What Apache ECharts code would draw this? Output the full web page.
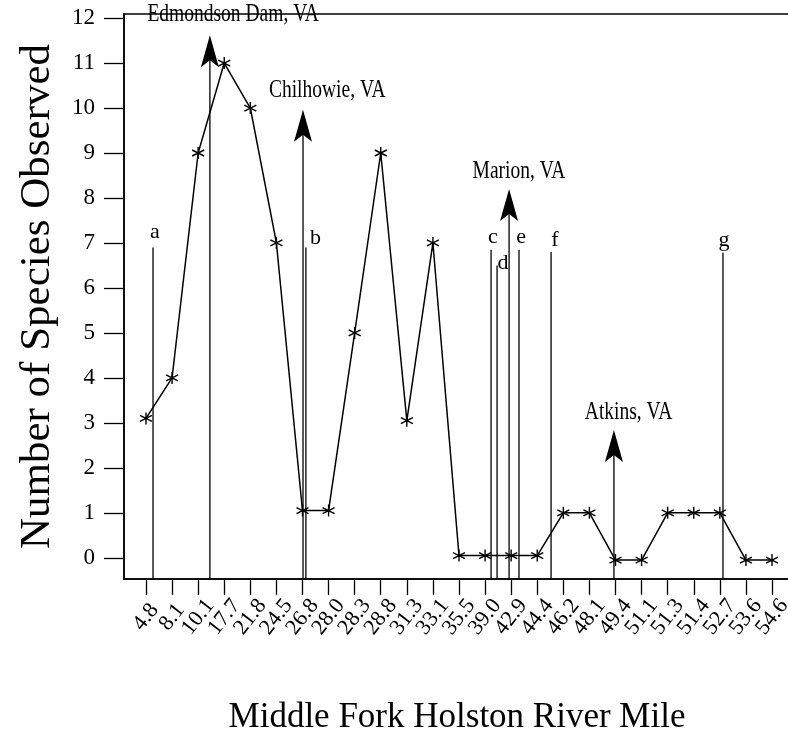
<!DOCTYPE html>
<html><head><meta charset="utf-8">
<script src="https://cdn.jsdelivr.net/npm/echarts@6/dist/echarts.min.js"></script>
<style>html,body{margin:0;padding:0;background:#fff}#c{width:788px;height:753px}</style>
</head><body><div id="c"></div>
<script>
// ---- data ----
const riverMiles = ['4.8','8.1','10.1','17.7','21.8','24.5','26.8','28.0','28.3','28.8','31.3','33.1','35.5','39.0','42.9','44.4','46.2','48.1','49.4','51.1','51.3','51.4','52.7','53.6','54.6'];
const speciesObserved = [3.1,4,9,11,10,7,1.05,1.05,5,9,3.05,7,0.05,0.05,0.05,0.05,1,1,-0.05,-0.05,1,1,1,-0.05,-0.05];
const yTicks = [0,1,2,3,4,5,6,7,8,9,10,11,12];
// site markers a-g (x in station-index units, y in species units)
const siteLetters = ['a','b','c','d','e','f','g'];
const sitePos = [0.27,6.13,13.23,13.46,14.30,15.53,22.12];
const siteTop = [6.9,6.9,6.85,6.5,6.85,6.8,6.78];
const siteLabelX = [0.34,6.5,13.3,13.69,14.38,15.68,22.16];
const siteLabelY = [7.24,7.1,7.13,6.56,7.13,7.07,7.07];
// towns
const townNames = ['Edmondson Dam, VA','Chilhowie, VA','Marion, VA','Atkins, VA'];
const townPos = [2.45,6.02,13.92,17.94];
const townArrowTip = [11.62,9.96,8.2,2.84];
const townLabelX = [3.34,6.95,14.3,18.5];
const townLabelY = [12.07,10.4,8.58,3.24];

const SERIF = '"Liberation Serif","DejaVu Serif",serif';
const stationIdx = riverMiles.map((m,i)=>i);
// guard entries so that the min/max label-overlap rule never drops a real label
const labelValues = [-0.6].concat(stationIdx, [24.6]);

const chart = echarts.init(document.getElementById('c'), null, {renderer:'canvas'});
const asterisk = 'path://M0,-6L0,6M-5.2,-3L5.2,3M-5.2,3L5.2,-3';

function renderSite(params, api){
  const i = params.dataIndex;
  const top = api.coord([sitePos[i], siteTop[i]]);
  const bottomY = params.coordSys.y + params.coordSys.height;
  const lab = api.coord([siteLabelX[i], siteLabelY[i]]);
  return {type:'group', children:[
    {type:'line', shape:{x1:top[0], y1:top[1], x2:top[0], y2:bottomY}, style:{stroke:'#000', lineWidth:1.3}},
    {type:'text', x:lab[0], y:lab[1], style:{text:siteLetters[i], font:'22px '+SERIF, fill:'#000', align:'center', verticalAlign:'middle'}}
  ]};
}
function renderTown(params, api){
  const i = params.dataIndex;
  const tip = api.coord([townPos[i], townArrowTip[i]]);
  const bottomY = params.coordSys.y + params.coordSys.height;
  const lab = api.coord([townLabelX[i], townLabelY[i]]);
  const x = tip[0], y = tip[1];
  return {type:'group', children:[
    {type:'line', shape:{x1:x, y1:y+10, x2:x, y2:bottomY}, style:{stroke:'#000', lineWidth:1.3}},
    {type:'polygon', shape:{points:[[x,y],[x+9,y+32],[x,y+25],[x-9,y+32]]}, style:{fill:'#000'}},
    {type:'text', x:lab[0], y:lab[1], scaleX:0.78, style:{x:0, y:0, text:townNames[i], font:'25px '+SERIF, fill:'#000', align:'center', verticalAlign:'middle'}}
  ]};
}

chart.setOption({
  animation:false,
  backgroundColor:'#fff',
  grid:{left:124, top:14, right:-2, bottom:174, containLabel:false, outerBoundsMode:'none',
    show:true, borderColor:'#000', borderWidth:1.5, backgroundColor:'transparent'},
  xAxis:{
    type:'value', min:-0.843, max:24.69,
    name:'Middle Fork Holston River Mile', nameLocation:'middle', nameGap:121,
    nameTextStyle:{fontFamily:SERIF, fontSize:35, color:'#000'},
    axisLine:{show:true, onZero:false, lineStyle:{color:'#000', width:1.5}},
    axisTick:{show:true, inside:false, length:16, customValues:stationIdx, lineStyle:{color:'#000', width:1.3}},
    axisLabel:{show:true, customValues:labelValues, rotate:52, align:'center', verticalAlign:'middle', margin:38,
      showMinLabel:false, showMaxLabel:false, hideOverlap:false,
      fontFamily:SERIF, fontSize:22, color:'#000',
      formatter:v=>{const k=Math.round(v); return (Math.abs(v-k)<1e-6 && riverMiles[k]) ? riverMiles[k] : ' ';}},
    splitLine:{show:false}
  },
  yAxis:{
    type:'value', min:-0.47, max:12.09,
    name:'Number of Species Observed', nameLocation:'middle', nameGap:65, nameRotate:90,
    nameTextStyle:{fontFamily:SERIF, fontSize:43, color:'#000'},
    axisLine:{show:true, onZero:false, lineStyle:{color:'#000', width:1.5}},
    axisTick:{show:true, length:20, customValues:yTicks, lineStyle:{color:'#000', width:1.3}},
    axisLabel:{show:true, customValues:yTicks, margin:29, showMinLabel:true, showMaxLabel:true,
      fontFamily:SERIF, fontSize:23, color:'#000'},
    splitLine:{show:false}
  },
  series:[
    {type:'line', data:speciesObserved.map((v,i)=>[i,v]), symbol:asterisk, symbolSize:12,
      lineStyle:{color:'#000', width:1.5}, itemStyle:{color:'#000', borderColor:'#000', borderWidth:1.4}, z:3},
    {type:'custom', renderItem:renderSite, data:sitePos.map((p,i)=>[p, siteTop[i]]), z:2},
    {type:'custom', renderItem:renderTown, data:townPos.map((p,i)=>[p, townArrowTip[i]]), z:2}
  ]
});
</script></body></html>
